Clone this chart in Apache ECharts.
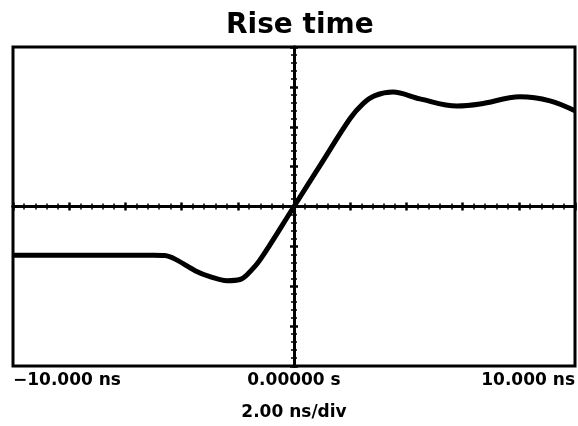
<!DOCTYPE html>
<html>
<head>
<meta charset="utf-8">
<script src="https://cdn.jsdelivr.net/npm/echarts@6/dist/echarts.min.js"></script>
<style>
    html, body { margin: 0; padding: 0; background: #fff; }
</style>
</head>
<body>
<div style="width:578px;height:426px;" id="rise_time"></div>
<script>
// time in ns, amplitude in divisions
const timeNs = [-10, -7, -5, -4.6, -4.23, -3.52, -2.99, -2.38, -1.92, -1.67, -1.21, 0, 0.93, 1.99, 2.46, 2.88, 3.52, 4.48, 5.8, 6.62, 8.04, 9.11, 10];
const amplitude = [-1.22, -1.22, -1.22, -1.23, -1.32, -1.61, -1.76, -1.86, -1.83, -1.71, -1.34, 0, 1.03, 2.2, 2.58, 2.78, 2.87, 2.7, 2.52, 2.57, 2.75, 2.65, 2.4];
const xTickLabels = {'-10': '\u221210.000 ns', '0': '0.00000 s', '10': '10.000 ns'};
const scaleText = '2.00 ns/div';

const font = '"DejaVu Sans", sans-serif';

// center cross: two axes per direction so the ticks sit on both sides of the line
function centerX (pos) {
    return {
        type: 'value', min: -10, max: 10, interval: 2,
        position: pos,
        axisLine: { onZero: true, lineStyle: { color: '#000', width: 3 } },
        axisTick: { show: true, length: 4, lineStyle: { color: '#000', width: 2.5 } },
        minorTick: { show: true, splitNumber: 5, length: 3, lineStyle: { color: '#000', width: 1.5 } },
        axisLabel: { show: false },
        splitLine: { show: false }
    };
}
function centerY (pos) {
    return {
        type: 'value', min: -4, max: 4, interval: 1,
        position: pos,
        axisLine: { onZero: true, lineStyle: { color: '#000', width: 3 } },
        axisTick: { show: true, length: 4, lineStyle: { color: '#000', width: 2.5 } },
        minorTick: { show: true, splitNumber: 5, length: 3, lineStyle: { color: '#000', width: 1.5 } },
        axisLabel: { show: false },
        splitLine: { show: false }
    };
}

const option = {
    backgroundColor: '#fff',
    animation: false,
    title: {
        text: 'Rise time',
        left: 221,
        top: 7,
        textStyle: { fontFamily: font, fontWeight: 'bold', fontSize: 28, color: '#000' }
    },
    grid: {
        left: 13, right: 3, top: 47, bottom: 54,
        show: true, borderColor: '#000', borderWidth: 3
    },
    xAxis: [
        centerX('bottom'),
        centerX('top'),
        {
            type: 'value', min: -10, max: 10, interval: 10,
            position: 'bottom',
            axisLine: { show: false, onZero: false },
            axisTick: { show: false },
            splitLine: { show: false },
            axisLabel: {
                margin: 6,
                fontFamily: font, fontWeight: 'bold', fontSize: 17, color: '#000',
                alignMinLabel: 'left', alignMaxLabel: 'right',
                formatter: function (v) { return xTickLabels[String(v)] || ''; }
            },
            name: scaleText,
            nameLocation: 'middle',
            nameGap: 38,
            nameTextStyle: { fontFamily: font, fontWeight: 'bold', fontSize: 17, color: '#000' }
        }
    ],
    yAxis: [centerY('left'), centerY('right')],
    series: [
        {
            type: 'line',
            xAxisIndex: 0,
            yAxisIndex: 0,
            smooth: 0.35,
            symbol: 'none',
            lineStyle: { color: '#000', width: 5 },
            data: timeNs.map(function (t, i) { return [t, amplitude[i]]; })
        }
    ]
};

let chart = echarts.init(document.getElementById('rise_time'));
chart.setOption(option);
window.addEventListener('resize', function () {
    chart.resize();
});
</script>
</body>
</html>
